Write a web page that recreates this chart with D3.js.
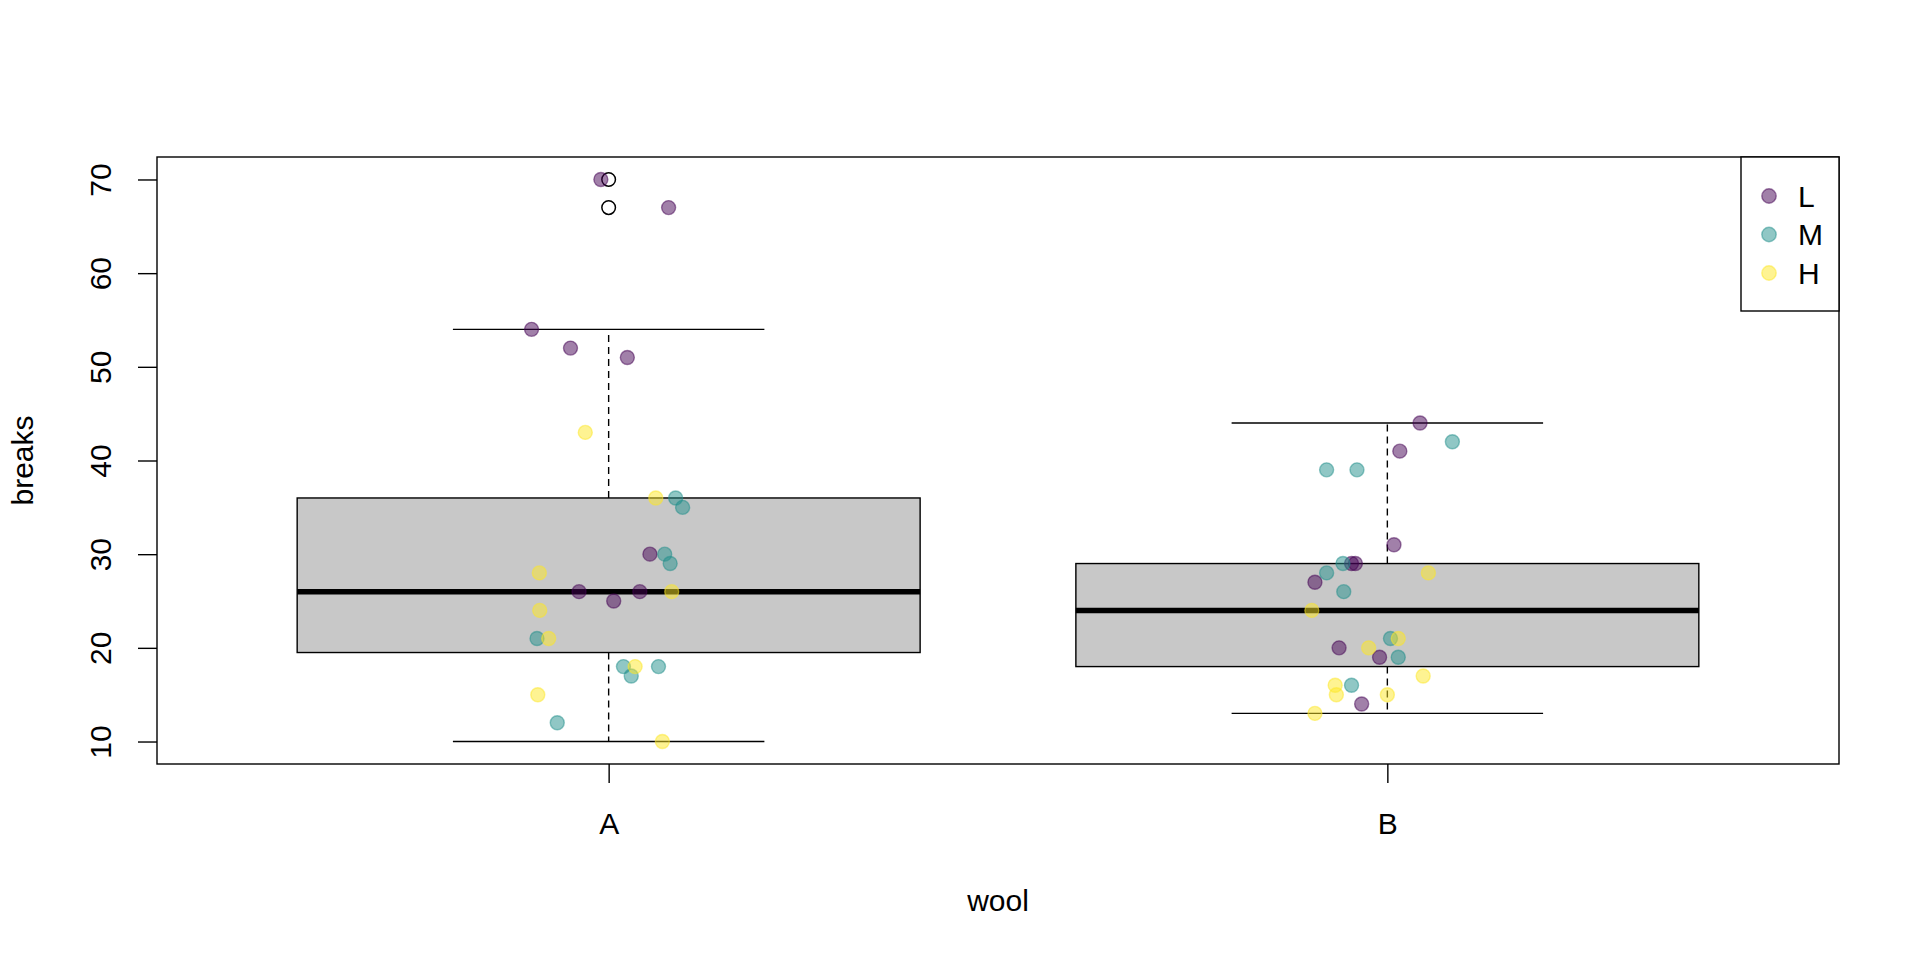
<!DOCTYPE html>
<html><head><meta charset="utf-8">
<script src="https://cdn.jsdelivr.net/npm/d3@7"></script>
<style>
html,body{margin:0;padding:0;background:#fff;}
svg{display:block;font-family:"Liberation Sans",Arial,Helvetica,sans-serif;}
</style></head>
<body>
<svg id="chart" width="1920" height="960"></svg>
<script>
// ---- data (warpbreaks) ----
const woolCategories = ["A", "B"];
const tensionLevels = ["L", "M", "H"];
const tensionColors = ["#440154", "#21908C", "#FDE725"];
const yTickValues = [10, 20, 30, 40, 50, 60, 70];

const breaksA_L = [26, 30, 54, 25, 70, 52, 51, 26, 67];
const breaksA_M = [18, 21, 29, 17, 12, 18, 35, 30, 36];
const breaksA_H = [36, 21, 24, 18, 10, 43, 28, 15, 26];
const breaksB_L = [27, 14, 29, 19, 29, 31, 41, 20, 44];
const breaksB_M = [42, 26, 19, 16, 39, 28, 21, 39, 29];
const breaksB_H = [20, 21, 24, 17, 13, 15, 15, 16, 28];

// horizontal jitter (in category units)
const jitterA_L = [-0.038, 0.053, -0.099, 0.0065, -0.010, -0.049, 0.024, 0.040, 0.077];
const jitterA_M = [0.019, -0.092, 0.079, 0.029, -0.066, 0.064, 0.095, 0.072, 0.086];
const jitterA_H = [0.0605, -0.077, -0.0885, 0.034, 0.069, -0.030, -0.089, -0.091, 0.081];
const jitterB_L = [-0.093, -0.033, -0.046, -0.010, -0.041, 0.0085, 0.016, -0.062, 0.042];
const jitterB_M = [0.0835, -0.056, 0.014, -0.046, -0.078, -0.078, 0.004, -0.039, -0.057];
const jitterB_H = [-0.024, 0.014, -0.097, 0.046, -0.093, -0.0655, 0.000, -0.067, 0.0527];

const groups = [
  {wool: "A", series: [breaksA_L, breaksA_M, breaksA_H], jitter: [jitterA_L, jitterA_M, jitterA_H]},
  {wool: "B", series: [breaksB_L, breaksB_M, breaksB_H], jitter: [jitterB_L, jitterB_M, jitterB_H]}
];

// ---- layout ----
const svg = d3.select("#chart");
const plot = {left: 157, right: 1839, top: 157, bottom: 764};
const font = 30;
const capHalf = 0.358 * font;

const x = d3.scaleLinear().domain([0.42, 2.58]).range([plot.left, plot.right]);
const y = d3.scaleLinear().domain([7.6, 72.4]).range([plot.bottom, plot.top]);

// Tukey five-number summary
function fivenum(vals) {
  const s = vals.slice().sort((a, b) => a - b);
  const n = s.length;
  const n4 = Math.floor((n + 3) / 2) / 2;
  const d = [1, n4, (n + 1) / 2, n + 1 - n4, n].map(v => v - 1);
  return d.map(v => 0.5 * (s[Math.floor(v)] + s[Math.ceil(v)]));
}

const boxWidth = 0.8, stapleWidth = 0.4;

groups.forEach((g, i) => {
  const pos = i + 1;
  const all = [].concat(...g.series);
  const f = fivenum(all);
  const iqr = f[3] - f[1];
  const hiFence = f[3] + 1.5 * iqr, loFence = f[1] - 1.5 * iqr;
  const inside = all.filter(v => v >= loFence && v <= hiFence);
  const wLo = d3.min(inside), wHi = d3.max(inside);
  const outliers = all.filter(v => v < loFence || v > hiFence);
  const gg = svg.append("g");

  gg.append("line").attr("x1", x(pos)).attr("x2", x(pos)).attr("y1", y(f[3])).attr("y2", y(wHi))
    .attr("stroke", "#000").attr("stroke-width", 1.4).attr("stroke-dasharray", "7,5");
  gg.append("line").attr("x1", x(pos)).attr("x2", x(pos)).attr("y1", y(f[1])).attr("y2", y(wLo))
    .attr("stroke", "#000").attr("stroke-width", 1.4).attr("stroke-dasharray", "7,5");
  [wLo, wHi].forEach(v => {
    gg.append("line").attr("x1", x(pos - stapleWidth / 2)).attr("x2", x(pos + stapleWidth / 2))
      .attr("y1", y(v)).attr("y2", y(v)).attr("stroke", "#000").attr("stroke-width", 1.4);
  });
  gg.append("rect").attr("x", x(pos - boxWidth / 2)).attr("y", y(f[3]))
    .attr("width", x(pos + boxWidth / 2) - x(pos - boxWidth / 2)).attr("height", y(f[1]) - y(f[3]))
    .attr("fill", "#c8c8c8").attr("stroke", "#000").attr("stroke-width", 1.4);
  gg.append("line").attr("x1", x(pos - boxWidth / 2)).attr("x2", x(pos + boxWidth / 2))
    .attr("y1", y(f[2])).attr("y2", y(f[2])).attr("stroke", "#000").attr("stroke-width", 5.5);
  outliers.forEach(v => {
    gg.append("circle").attr("cx", x(pos)).attr("cy", y(v)).attr("r", 6.8)
      .attr("fill", "none").attr("stroke", "#000").attr("stroke-width", 1.5);
  });
});

// jittered points
const pts = svg.append("g");
groups.forEach((g, i) => {
  const pos = i + 1;
  g.series.forEach((vals, t) => {
    vals.forEach((v, k) => {
      pts.append("circle").attr("cx", x(pos + g.jitter[t][k])).attr("cy", y(v)).attr("r", 7)
        .attr("fill", tensionColors[t]).attr("fill-opacity", 0.5)
        .attr("stroke", tensionColors[t]).attr("stroke-opacity", 0.5).attr("stroke-width", 1.4);
    });
  });
});

// frame
svg.append("rect").attr("x", plot.left).attr("y", plot.top)
  .attr("width", plot.right - plot.left).attr("height", plot.bottom - plot.top)
  .attr("fill", "none").attr("stroke", "#000").attr("stroke-width", 1.4);

// y axis
const yAxis = svg.append("g").attr("transform", `translate(${plot.left},0)`)
  .call(d3.axisLeft(y).tickValues(yTickValues).tickSize(19).tickPadding(0).tickFormat(d3.format("d")));
yAxis.select(".domain").remove();
yAxis.selectAll(".tick line").attr("stroke", "#000").attr("stroke-width", 1.4);
yAxis.selectAll(".tick text")
  .attr("x", 0).attr("y", 0).attr("dy", null)
  .attr("transform", "translate(-46,0) rotate(-90)")
  .attr("text-anchor", "middle")
  .attr("font-size", font).attr("font-family", "Liberation Sans, Arial, sans-serif").attr("fill", "#000");

// x axis
const xAxis = svg.append("g").attr("transform", `translate(0,${plot.bottom})`)
  .call(d3.axisBottom(x).tickValues([1, 2]).tickSize(19).tickPadding(0)
    .tickFormat((d) => woolCategories[d - 1]));
xAxis.select(".domain").remove();
xAxis.selectAll(".tick line").attr("stroke", "#000").attr("stroke-width", 1.4);
xAxis.selectAll(".tick text").attr("y", 834 - plot.bottom).attr("dy", null)
  .attr("font-size", font).attr("font-family", "Liberation Sans, Arial, sans-serif").attr("fill", "#000");

// axis titles
svg.append("text").attr("x", (plot.left + plot.right) / 2).attr("y", 911)
  .attr("text-anchor", "middle").attr("font-size", font).text("wool");
svg.append("text").attr("transform", `translate(33,${(plot.top + plot.bottom) / 2}) rotate(-90)`)
  .attr("text-anchor", "middle").attr("font-size", font).text("breaks");

// legend
const leg = svg.append("g");
leg.append("rect").attr("x", 1741).attr("y", plot.top).attr("width", plot.right - 1741).attr("height", 311 - plot.top)
  .attr("fill", "#fff").attr("stroke", "#000").attr("stroke-width", 1.4);
tensionLevels.forEach((lab, t) => {
  const yy = 196 + t * 38.5;
  leg.append("circle").attr("cx", 1769).attr("cy", yy).attr("r", 7.2)
    .attr("fill", tensionColors[t]).attr("fill-opacity", 0.5)
    .attr("stroke", tensionColors[t]).attr("stroke-opacity", 0.5).attr("stroke-width", 1.4);
  leg.append("text").attr("x", 1798).attr("y", yy + capHalf)
    .attr("font-size", font).text(lab);
});
</script>
</body></html>
